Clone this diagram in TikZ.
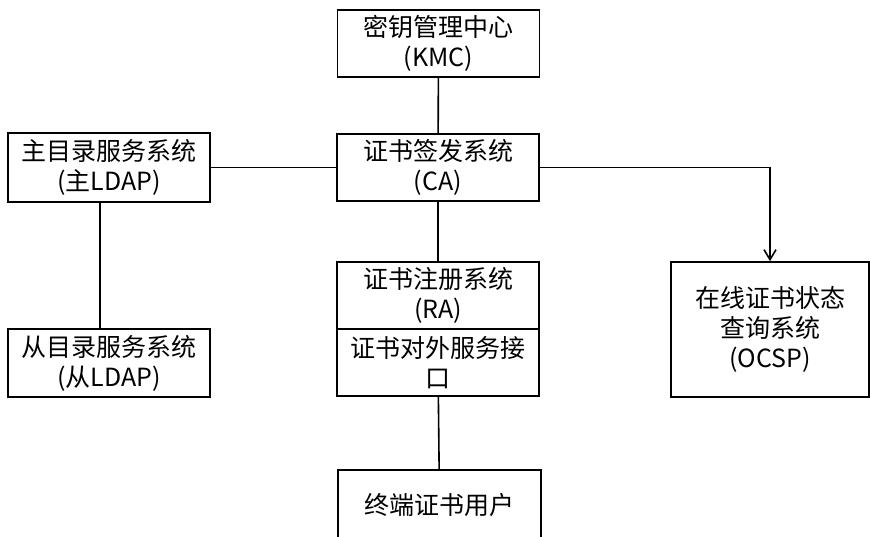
\documentclass[tikz,border=0pt]{standalone}
\usepackage{fontspec}
\setmainfont{Noto Sans CJK SC}
\usetikzlibrary{arrows.meta}

\begin{document}
\begin{tikzpicture}[x=0.5pt,y=-0.5pt,
  box/.style={draw,line width=0.8pt,align=center,inner sep=0pt,
    minimum width=101pt,minimum height=33.5pt,
    font=\fontsize{12.5}{15}\selectfont},
  link/.style={line width=0.8pt}]
\useasboundingbox (0,0) rectangle (870,536);

\node[box] (kmc) at (438.5,43.5) {密钥管理中心\\(KMC)};
\node[box] (ca) at (438,167.5) {证书签发系统\\(CA)};
\node[box,minimum height=34.5pt] (mldap) at (109,167.5) {主目录服务系统\\(主LDAP)};
\node[box,minimum height=34pt] (sldap) at (109,363) {从目录服务系统\\(从LDAP)};
\node[box] (ra) at (438,295.5) {证书注册系统\\(RA)};
\node[box] (api) at (438,362.5) {证书对外服务接\\口};
\node[box,minimum width=101.5pt,minimum height=35pt] (user) at (439.5,505) {终端证书用户};
\node[box,minimum width=99pt,minimum height=67.5pt] (ocsp) at (770,329.5) {在线证书状态\\查询系统\\(OCSP)};

\draw[link] (kmc) -- (ca);
\draw[link] (mldap) -- (ca);
\draw[link] ([xshift=-4.5pt]mldap.south) -- ([xshift=-4.5pt]sldap.north);
\draw[link] (ca) -- (ra);
\draw[link] (api) -- (user);
\draw[link,-{Straight Barb[length=5pt,width=6pt]}] (ca.east) -| (ocsp.north);
\end{tikzpicture}
\end{document}
